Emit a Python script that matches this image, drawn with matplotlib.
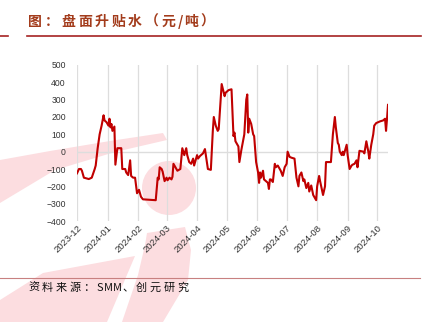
import numpy as np
import pandas as pd
import matplotlib
matplotlib.use("Agg")
import matplotlib.pyplot as plt
import matplotlib.dates as mdates
from matplotlib.patches import Polygon, Ellipse

plt.rcParams['font.family'] = ['Liberation Sans', 'DejaVu Sans']

# 盘面升贴水 (元/吨)
dates = ['2023-12-01', '2023-12-03', '2023-12-05', '2023-12-06', '2023-12-08', '2023-12-11',
         '2023-12-13', '2023-12-16', '2023-12-19', '2023-12-20', '2023-12-22', '2023-12-24',
         '2023-12-26', '2023-12-28', '2023-12-29', '2023-12-31', '2024-01-02', '2024-01-03',
         '2024-01-04', '2024-01-05', '2024-01-06', '2024-01-08', '2024-01-09', '2024-01-11',
         '2024-01-15', '2024-01-16', '2024-01-19', '2024-01-20', '2024-01-22', '2024-01-24',
         '2024-01-25', '2024-01-27', '2024-01-29', '2024-01-31', '2024-02-02', '2024-02-04',
         '2024-02-06', '2024-02-19', '2024-02-21', '2024-02-22', '2024-02-23', '2024-02-25',
         '2024-02-26', '2024-02-28', '2024-03-01', '2024-03-02', '2024-03-04', '2024-03-06',
         '2024-03-07', '2024-03-08', '2024-03-11', '2024-03-12', '2024-03-15', '2024-03-17',
         '2024-03-19', '2024-03-21', '2024-03-22', '2024-03-24', '2024-03-26', '2024-03-28',
         '2024-03-29', '2024-03-30', '2024-04-01', '2024-04-02', '2024-04-04', '2024-04-07',
         '2024-04-09', '2024-04-12', '2024-04-15', '2024-04-17', '2024-04-18', '2024-04-20',
         '2024-04-22', '2024-04-23', '2024-04-25', '2024-04-26', '2024-04-29', '2024-04-30',
         '2024-05-03', '2024-05-06', '2024-05-08', '2024-05-09', '2024-05-10', '2024-05-13',
         '2024-05-14', '2024-05-16', '2024-05-19', '2024-05-21', '2024-05-22', '2024-05-23',
         '2024-05-24', '2024-05-26', '2024-05-28', '2024-05-29', '2024-05-31', '2024-06-02',
         '2024-06-03', '2024-06-04', '2024-06-05', '2024-06-07', '2024-06-08', '2024-06-10',
         '2024-06-12', '2024-06-13', '2024-06-14', '2024-06-15', '2024-06-17', '2024-06-19',
         '2024-06-20', '2024-06-22', '2024-06-24', '2024-06-25', '2024-06-27', '2024-06-29',
         '2024-07-01', '2024-07-02', '2024-07-04', '2024-07-06', '2024-07-09', '2024-07-11',
         '2024-07-13', '2024-07-14', '2024-07-16', '2024-07-18', '2024-07-19', '2024-07-21',
         '2024-07-23', '2024-07-24', '2024-07-26', '2024-07-28', '2024-07-31', '2024-08-01',
         '2024-08-03', '2024-08-04', '2024-08-07', '2024-08-09', '2024-08-10', '2024-08-15',
         '2024-08-17', '2024-08-19', '2024-08-20', '2024-08-22', '2024-08-23', '2024-08-24',
         '2024-08-26', '2024-08-27', '2024-08-28', '2024-08-30', '2024-08-31', '2024-09-01',
         '2024-09-03', '2024-09-05', '2024-09-06', '2024-09-08', '2024-09-10', '2024-09-11',
         '2024-09-13', '2024-09-17', '2024-09-18', '2024-09-20', '2024-09-22', '2024-09-23',
         '2024-09-25', '2024-09-27', '2024-09-28', '2024-09-30', '2024-10-04', '2024-10-07',
         '2024-10-09', '2024-10-10', '2024-10-11', '2024-10-12']
basis = [-125, -100, -100, -110, -150, -155, -158, -150, -100, -80, 20, 100,
         150, 210, 180, 170, 150, 190, 140, 160, 120, 145, -75, 20,
         20, -100, -100, -120, -135, -50, -140, -150, -150, -240, -220, -260,
         -275, -280, -150, -160, -90, -100, -115, -170, -150, -165, -150, -160,
         -145, -70, -100, -110, -100, 20, -20, 20, -20, -60, -70, -40,
         -80, -60, -20, -40, -25, -10, 15, -100, -105, 120, 200, 150,
         120, 130, 300, 390, 320, 340, 355, 360, 90, 110, 60, 30,
         -60, 10, 100, 300, 330, 110, 190, 160, 100, 90, -60, -120,
         -180, -120, -150, -110, -160, -170, -180, -215, -160, -160, -175, -70,
         -90, -80, -100, -110, -140, -90, -70, 0, -30, -35, -40, -150,
         -200, -140, -120, -170, -160, -210, -180, -230, -195, -250, -280, -200,
         -140, -170, -250, -200, -60, -60, 100, 200, 140, 50, 40, 0,
         -20, 0, -20, 20, 40, -20, -100, -80, -75, -70, -50, -90,
         5, 0, -10, 60, 0, -40, 40, 100, 150, 165, 175, 180,
         190, 120, 190, 270]
yticks = [-400, -300, -200, -100, 0, 100, 200, 300, 400, 500]

W, H = 423, 322
fig = plt.figure(figsize=(W / 100, H / 100), dpi=100)
fig.patch.set_facecolor('white')

# light pink logo watermark behind everything (pixel coords, y from top)
pink = '#fcdde0'
def px(pts):
    return [(x / W, 1 - y / H) for x, y in pts]

shapes = [
    px([(0, 160), (50, 151), (110, 141), (163, 133), (167, 140), (115, 152), (55, 170), (0, 203)]),
    px([(147, 233), (185, 227), (191, 250), (188, 280), (163, 322), (122, 322), (138, 275), (145, 245)]),
    px([(0, 300), (43, 273), (135, 256), (107, 322), (0, 322)]),
]
for s in shapes:
    fig.patches.append(Polygon(s, closed=True, transform=fig.transFigure,
                               facecolor=pink, edgecolor='none', zorder=-5))
fig.patches.append(Ellipse((169 / W, 1 - 188 / H), 54 / W, 54 / H, transform=fig.transFigure,
                           facecolor=pink, edgecolor='none', zorder=-5))

ax = fig.add_axes([77 / W, 1 - 221 / H, 311 / W, 156 / H])
ax.set_facecolor('none')

x = pd.to_datetime(dates)
ax.axhline(0, color='#dddddd', lw=1.0, zorder=1)
ax.plot(x, basis, color='#c00000', lw=1.5, zorder=3)

ax.set_xlim(pd.Timestamp('2023-12-01'), pd.Timestamp('2024-10-12'))
ax.set_ylim(-400, 500)
ax.set_yticks(yticks)
ax.xaxis.set_major_locator(mdates.MonthLocator())
ax.xaxis.set_major_formatter(mdates.DateFormatter('%Y-%m'))
ax.grid(axis='x', color='#dddddd', lw=0.9)
ax.tick_params(axis='y', length=0, pad=8, labelsize=6.2, labelcolor='#333333')
ax.tick_params(axis='x', length=0, pad=2, labelsize=6.8, labelcolor='#333333')
for lab in ax.get_xticklabels():
    lab.set_rotation(45)
    lab.set_ha('right')
    lab.set_va('top')
    lab.set_rotation_mode('anchor')
for sp in ax.spines.values():
    sp.set_visible(False)

# header and footer
renderer = fig.canvas.get_renderer()
def spaced(x0, y0, s, size, gap, **kw):
    xpos = x0
    for ch in s:
        t = fig.text(xpos / W, 1 - y0 / H, ch, fontsize=size, va='center', ha='left',
                     family=['Noto Sans CJK SC', 'DejaVu Sans'], **kw)
        w = t.get_window_extent(renderer).width
        xpos += w + (gap if ord(ch) > 127 else 0.3)

spaced(28, 22, '图：盘面升贴水（元/吨）', 10, 2.8, color='#a33c1c', fontweight='bold')
fig.add_artist(plt.Line2D([27 / W, 421 / W], [1 - 36 / H] * 2, color='#a52222', lw=1.2))
fig.add_artist(plt.Line2D([0, 8 / W], [1 - 36 / H] * 2, color='#a52222', lw=1.2))
fig.add_artist(plt.Line2D([0, 420 / W], [1 - 278 / H] * 2, color='#c88080', lw=0.8))
spaced(28, 288, '资料来源：SMM、创元研究', 8, 2.6, color='#111111')

fig.savefig('out.png', dpi=100)
